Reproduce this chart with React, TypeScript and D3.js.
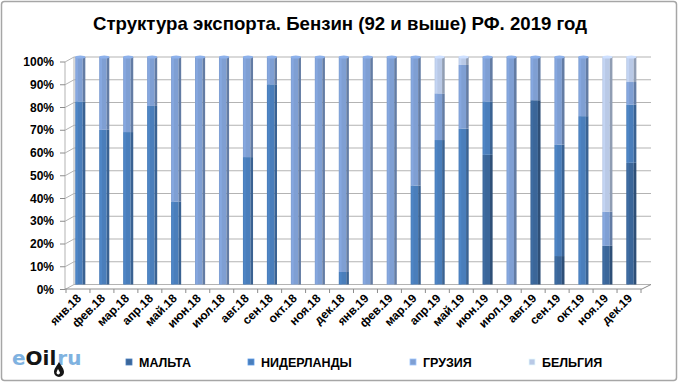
import React from "react";
import * as d3 from "d3";

const categories = [
  "янв.18", "фев.18", "мар.18", "апр.18", "май.18", "июн.18", "июл.18", "авг.18",
  "сен.18", "окт.18", "ноя.18", "дек.18", "янв.19", "фев.19", "мар.19", "апр.19",
  "май.19", "июн.19", "июл.19", "авг.19", "сен.19", "окт.19", "ноя.19", "дек.19",
];
const malta = [0, 0, 0, 0, 0, 0, 0, 0, 0, 0, 0, 0, 0, 0, 0, 0, 0, 57, 0, 81, 12.5, 0, 17, 53.5];
const netherlands = [80.5, 68, 67, 78.5, 36.5, 0, 0, 56, 88, 0, 0, 5.5, 0, 0, 43.5, 63.5, 68.5, 23.5, 0, 0, 49, 74, 0, 25.5];
const georgia = [19.5, 32, 33, 21.5, 63.5, 100, 100, 44, 12, 100, 100, 94.5, 100, 100, 56.5, 20.5, 28, 19.5, 100, 19, 38.5, 26, 15, 10];
const belgium = [0, 0, 0, 0, 0, 0, 0, 0, 0, 0, 0, 0, 0, 0, 0, 16, 3.5, 0, 0, 0, 0, 0, 68, 11];
const seriesNames = ["МАЛЬТА", "НИДЕРЛАНДЫ", "ГРУЗИЯ", "БЕЛЬГИЯ"];
const yTicks = [0, 10, 20, 30, 40, 50, 60, 70, 80, 90, 100];

const colors = ["#3b6699", "#4a7ebb", "#7f9fd3", "#b9c9e6"];
const keys = ["malta", "netherlands", "georgia", "belgium"];

export default function App() {
  const W = 680, H = 384;
  const rows = categories.map((c, i) => ({
    cat: c,
    malta: malta[i],
    netherlands: netherlands[i],
    georgia: georgia[i],
    belgium: belgium[i],
  }));
  const stack = d3.stack<any>().keys(keys)(rows);

  const x = d3.scaleBand<string>().domain(categories).range([66, 641]).padding(0);
  const bw = x.bandwidth();
  const y = d3.scaleLinear().domain([0, 100]).range([284.5, 57]);
  const dx = 9, dy = 5; // depth offset
  const backL = 65 + dx, backR = 651;
  const floorY = y(0) + dy - 0.5;

  const barFront = 7.5, barSide = 2.6;
  const fontAxis = "Arial, 'Liberation Sans', sans-serif";

  return (
    <svg width={W} height={H} style={{ position: "fixed", left: 0, top: 0, background: "#fff" }}
      fontFamily={fontAxis}>
      <rect x={1.5} y={1.5} width={675} height={379} rx={3} fill="#fff" stroke="#a6a6a6" strokeWidth={1.5} />
      <text x={340} y={30} textAnchor="middle" fontSize={19} fontWeight="bold"
        fontFamily="'Liberation Sans Narrow', 'Arial Narrow', Arial, sans-serif"
        textLength={494} lengthAdjust="spacingAndGlyphs" fill="#000">
        Структура экспорта. Бензин (92 и выше) РФ. 2019 год
      </text>

      {/* walls and gridlines */}
      <line x1={backL} x2={backL} y1={y(100)} y2={y(0)} stroke="#b3b3b3" />
      <line x1={65} x2={65} y1={y(100) + dy} y2={floorY} stroke="#b3b3b3" />
      {yTicks.map((t) => (
        <g key={t}>
          <line x1={backL} x2={backR} y1={y(t)} y2={y(t)} stroke="#b3b3b3" />
          <line x1={65} x2={backL} y1={y(t) + dy} y2={y(t)} stroke="#b3b3b3" />
          <line x1={60} x2={65} y1={y(t) + dy} y2={y(t) + dy} stroke="#8c8c8c" />
          <text x={54} y={y(t) + dy + 4} textAnchor="end" fontSize={12} fontWeight="bold" fill="#000">
            {t}%
          </text>
        </g>
      ))}
      <line x1={65} x2={642} y1={floorY} y2={floorY} stroke="#8c8c8c" />
      <line x1={642} x2={backR} y1={floorY} y2={y(0)} stroke="#8c8c8c" />
      {d3.range(categories.length + 1).map((i) => {
        const xx = 66 + i * bw;
        return <line key={i} x1={xx} x2={xx} y1={floorY} y2={floorY + 4} stroke="#8c8c8c" />;
      })}

      {/* bars */}
      {stack.map((s, si) => {
        const c = d3.color(colors[si])!;
        const side = c.darker(0.7).formatHex();
        const top = c.brighter(0.3).formatHex();
        return (
          <g key={si}>
            {s.map((d, i) => {
              if (d[1] - d[0] <= 0) return null;
              const cx = (x(categories[i]) as number) + bw / 2 + 2.3;
              const x0 = cx - (barFront + barSide) / 2;
              const y0 = y(d[1]);
              const y1 = y(d[0]);
              const isTop = d[1] >= 99.9;
              return (
                <g key={i}>
                  <rect x={x0} y={y0} width={barFront} height={y1 - y0} fill={colors[si]} />
                  <rect x={x0 + 0.8} y={y0} width={2} height={y1 - y0} fill={c.brighter(0.25).formatHex()} opacity={0.6} />
                  <rect x={x0 + barFront} y={y0} width={barSide} height={y1 - y0} fill={side} />
                  {isTop && (
                    <ellipse cx={x0 + (barFront + barSide) / 2} cy={y0} rx={(barFront + barSide) / 2} ry={1.5} fill={top} />
                  )}
                </g>
              );
            })}
          </g>
        );
      })}

      {/* x labels */}
      {categories.map((c) => {
        const xx = (x(c) as number) + bw / 2 + 4;
        return (
          <text key={c} transform={`translate(${xx},${floorY + 10}) rotate(-45)`} textAnchor="end"
            fontSize={12} fontWeight="bold" fill="#000">
            {c}
          </text>
        );
      })}

      {/* logo */}
      <text x={12} y={365} fontSize={20} fontWeight="bold" fontFamily="'DejaVu Sans', Verdana, sans-serif">
        <tspan fill="#7fb2e0">e</tspan>
        <tspan fill="#151515">Oil</tspan>
        <tspan fill="#7fb2e0" dx={1}>ru</tspan>
      </text>
      <path d="M59,362 C56,367 54,369 54,372 A5,5 0 0 0 64,372 C64,369 62,367 59,362 Z" fill="#151515" />
      <path d="M58,369 C57,371 56.5,372 56.5,373 A1.8,1.8 0 0 0 60,373 C60,372 59,371 58,369 Z" fill="#fff" />

      {/* legend */}
      {seriesNames.map((n, i) => {
        const lx = [126, 248, 410, 529][i];
        return (
          <g key={n}>
            <rect x={lx} y={359} width={6} height={6} fill={colors[i]} stroke={d3.color(colors[i])!.brighter(0.6).formatHex()} strokeWidth={0.8} />
            <text x={lx + 13} y={366.5} fontSize={12.5} fontWeight="bold" fill="#000">{n}</text>
          </g>
        );
      })}
    </svg>
  );
}
